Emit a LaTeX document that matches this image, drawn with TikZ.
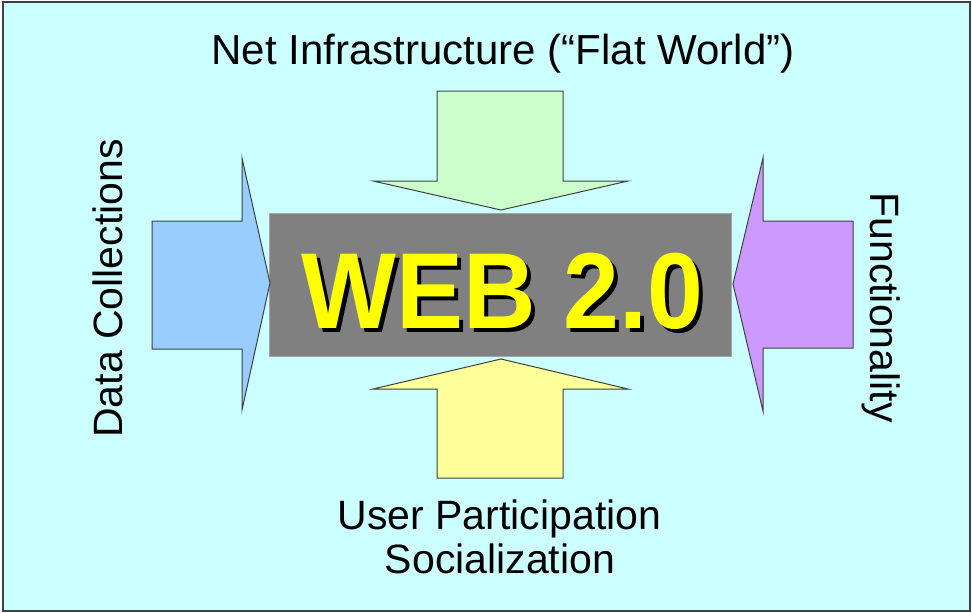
\documentclass[tikz,border=0pt]{standalone}
\usepackage{fontspec}
\setmainfont{Liberation Sans}
\definecolor{bgcyan}{HTML}{CCFFFF}
\definecolor{boxgray}{HTML}{808080}
\definecolor{agreen}{HTML}{CCFFCC}
\definecolor{ablue}{HTML}{99CCFF}
\definecolor{apurple}{HTML}{CC99FF}
\definecolor{ayellow}{HTML}{FFFF99}
\definecolor{webyellow}{HTML}{FFFF00}
\newcommand{\webword}{\scalebox{0.93}[1]{WEB 2.0}}
\begin{document}
\begin{tikzpicture}[x=1pt,y=-1pt,
  arrowshape/.style={draw=black!75, line width=1pt, line join=miter},
  lbl/.style={font=\fontsize{41}{44}\selectfont, inner sep=0pt, text=black, anchor=base},
  webtxt/.style={font=\fontsize{108}{110}\selectfont\bfseries, inner sep=0pt, anchor=base}]
\useasboundingbox (0,0) rectangle (972,613);
\draw[draw=black!75, line width=2pt, fill=bgcyan] (3,2) rectangle (970,611);
% central box
\node[draw=black!35, line width=0.6pt, fill=boxgray, minimum width=462pt, minimum height=143pt, inner sep=0pt] (web) at (500,284.5) {};
% arrows
\draw[arrowshape, fill=agreen] (437,91) -- (563,91) -- (563,181) -- (628,181) -- (501,210) -- (373,181) -- (437,181) -- cycle;
\draw[arrowshape, fill=ayellow] (437,478) -- (563,478) -- (563,389) -- (628,389) -- (501,359) -- (373,389) -- (437,389) -- cycle;
\draw[arrowshape, fill=ablue] (152,221) -- (242,221) -- (242,158) -- (270,283) -- (242,410) -- (242,349) -- (152,349) -- cycle;
\draw[arrowshape, fill=apurple] (853,221) -- (763,221) -- (763,158) -- (733,284) -- (763,411) -- (763,348) -- (853,348) -- cycle;
% WEB 2.0 with shadow (single node)
\node[webtxt] (webtext) at (502.5,328) {\makebox[0pt][l]{\hspace{4pt}\raisebox{-4pt}{\color{black}\webword}}\color{webyellow}\webword};
% labels
\node[lbl, font=\fontsize{42}{44}\selectfont] (top) at (503,64) {Net Infrastructure (“Flat World”)};
\node[lbl] (bot1) at (499.5,529) {User Participation};
\node[lbl] (bot2) at (500,573) {Socialization};
\node[lbl, rotate=90] (left) at (122,288.5) {Data Collections};
\node[lbl, rotate=-90] (right) at (870.5,307.5) {Functionality};
\end{tikzpicture}
\end{document}
